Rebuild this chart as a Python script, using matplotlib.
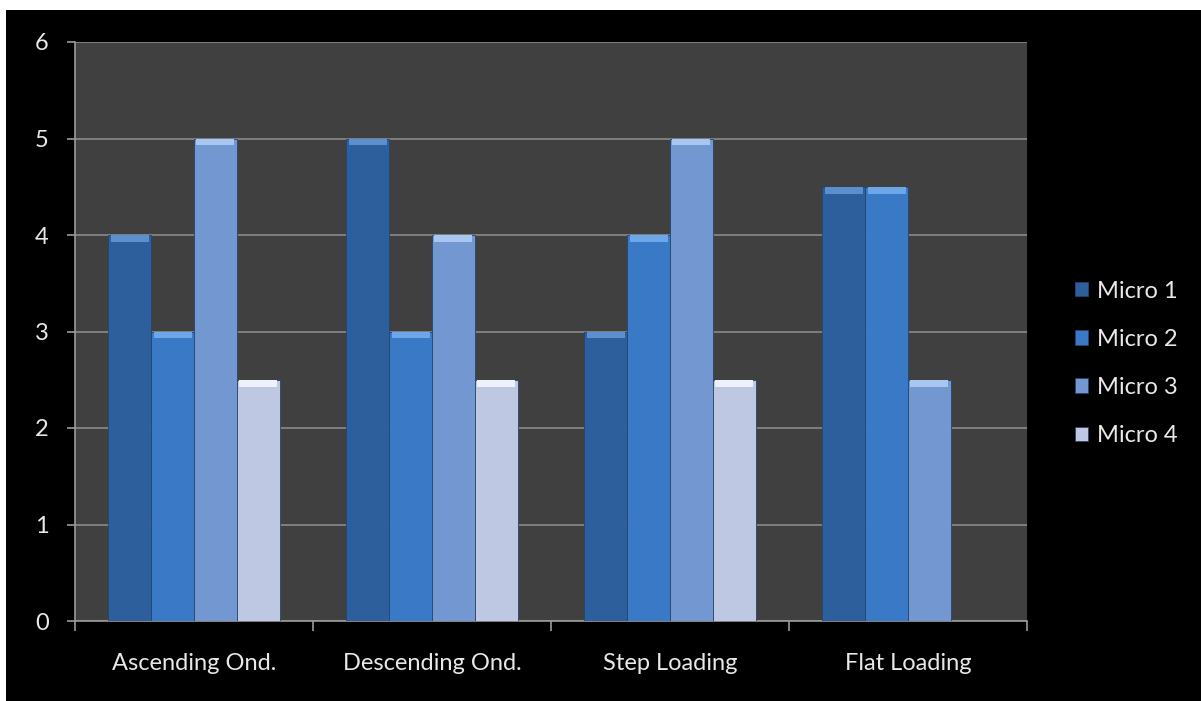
import matplotlib.pyplot as plt
import matplotlib.patches as mpatches
import numpy as np

plt.rcParams['font.family'] = ['Lato', 'DejaVu Sans']

categories = ['Ascending Ond.', 'Descending Ond.', 'Step Loading', 'Flat Loading']
series_names = ['Micro 1', 'Micro 2', 'Micro 3', 'Micro 4']
micro1 = [4, 5, 3, 4.5]
micro2 = [3, 3, 4, 4.5]
micro3 = [5, 4, 5, 2.5]
micro4 = [2.5, 2.5, 2.5, np.nan]
y_ticks = [0, 1, 2, 3, 4, 5, 6]

colors = ['#2D5F9C', '#3979C6', '#7397D0', '#BFC8E2']
tops = ['#5C8FD0', '#6EA6EA', '#A9C6F0', '#EEF1FA']

fig = plt.figure(figsize=(12.01, 7.01), dpi=100, facecolor='white')
fig.patches.append(mpatches.Rectangle((6 / 1201, 0), 1, 1 - 10 / 701,
                                      transform=fig.transFigure, facecolor='black',
                                      edgecolor='none', zorder=-1))

ax = fig.add_axes([75 / 1201, 1 - 621 / 701, 952 / 1201, 579 / 701])
ax.set_facecolor('#404040')

x = np.arange(len(categories))
width = 0.18
series = [micro1, micro2, micro3, micro4]
for i, vals in enumerate(series):
    pos = x + (i - 1.5) * width
    ax.bar(pos, vals, width, color=colors[i], edgecolor='#24456e', linewidth=0.6,
           label=series_names[i], zorder=3)
    # lighter cap on top of each bar
    for p, v in zip(pos, vals):
        if not np.isnan(v):
            ax.add_patch(mpatches.Rectangle((p - width / 2 + 0.01, v - 0.07), width - 0.02, 0.07,
                                            facecolor=tops[i], edgecolor='none', zorder=4))

ax.set_xlim(-0.5, len(categories) - 0.5)
ax.set_ylim(0, 6)
ax.set_yticks(y_ticks)
ax.yaxis.grid(True, color='#8a8a8a', linewidth=1.2, zorder=1)
ax.set_axisbelow(True)

ax.set_xticks(x)
ax.set_xticklabels(categories)
ax.set_xticks(np.arange(len(categories) + 1) - 0.5, minor=True)
ax.tick_params(axis='x', which='major', length=0, pad=23, labelcolor='#e8e8e8', labelsize=17)
ax.tick_params(axis='x', which='minor', length=7, color='#9a9a9a', width=1.2)
ax.tick_params(axis='y', length=6, color='#9a9a9a', width=1.2, pad=13,
               labelcolor='#e8e8e8', labelsize=17)

for side in ['top', 'right']:
    ax.spines[side].set_visible(False)
for side in ['left', 'bottom']:
    ax.spines[side].set_color('#9a9a9a')
    ax.spines[side].set_linewidth(1.2)

leg = ax.legend(loc='center left', bbox_to_anchor=(1.028, 0.445), frameon=False,
                fontsize=17, labelspacing=1.15, handlelength=0.55, handleheight=0.55,
                handletextpad=0.4)
for t in leg.get_texts():
    t.set_color('#e8e8e8')

fig.savefig('out.png', dpi=100, facecolor=fig.get_facecolor())
